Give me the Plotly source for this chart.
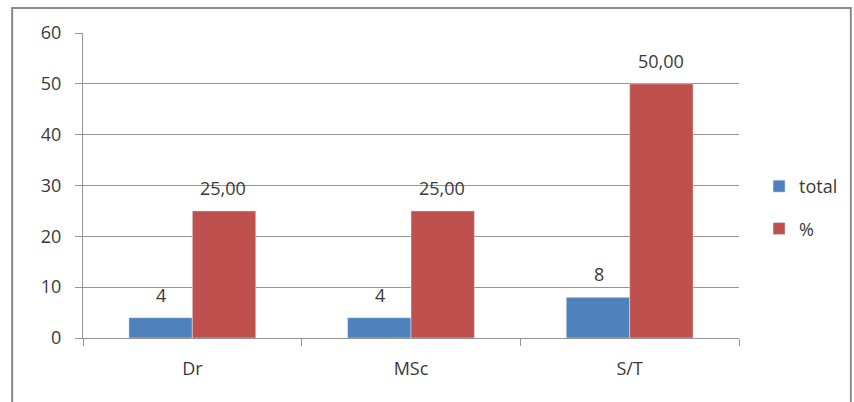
import plotly.graph_objects as go

categories = ["Dr", "MSc", "S/T"]
total = [4, 4, 8]
percent = [25.0, 25.0, 50.0]
y_ticks = [0, 10, 20, 30, 40, 50, 60]

BLUE = "#4F81BD"
RED = "#C0504D"
TEXT = "#3a3a3a"
GRID = "#949494"
FONT = "Open Sans"

fig = go.Figure()
fig.add_trace(go.Bar(name="total", x=categories, y=total, marker_color=BLUE,
                     legendgroup="a"))
fig.add_trace(go.Bar(name="%", x=categories, y=percent, marker_color=RED,
                     legendgroup="b"))

# value labels above each bar (comma as decimal mark for the percentages)
annotations = []
for cat, v in zip(categories, total):
    annotations.append(dict(x=cat, y=v, text=f"{v:d}", showarrow=False,
                            xanchor="center", yanchor="bottom", xshift=-31, yshift=9,
                            font=dict(family=FONT, size=18, color=TEXT)))
for cat, v in zip(categories, percent):
    annotations.append(dict(x=cat, y=v, text=f"{v:.2f}".replace(".", ","), showarrow=False,
                            xanchor="center", yanchor="bottom", xshift=31, yshift=9,
                            font=dict(family=FONT, size=18, color=TEXT)))

fig.update_layout(
    width=854, height=402,
    margin=dict(l=83, r=114, t=33, b=64),
    paper_bgcolor="white", plot_bgcolor="white",
    barmode="group", bargap=0.42, bargroupgap=0,
    font=dict(family=FONT, size=18, color=TEXT),
    annotations=annotations,
    legend=dict(x=1.029, xanchor="left", y=0.428, yanchor="middle",
                tracegroupgap=16, itemwidth=30,
                font=dict(family=FONT, size=18, color=TEXT),
                bgcolor="rgba(0,0,0,0)"),
    shapes=[dict(type="rect", xref="paper", yref="paper",
                 x0=-0.108, x1=1.1705, y0=-0.236, y1=1.082,
                 line=dict(color="#8a8a8a", width=2), fillcolor="rgba(0,0,0,0)",
                 layer="below")],
)

fig.update_xaxes(
    showline=True, linecolor=GRID, linewidth=1,
    ticks="outside", tickson="boundaries", ticklen=7, tickcolor=GRID,
    ticklabelstandoff=14, showgrid=False,
    tickfont=dict(family=FONT, size=18, color=TEXT),
)
fig.update_yaxes(
    range=[0, 60], tickvals=y_ticks,
    showline=True, linecolor=GRID, linewidth=1,
    ticks="outside", ticklen=7, tickcolor=GRID, ticklabelstandoff=10,
    showgrid=True, gridcolor=GRID, gridwidth=1, zeroline=False,
    tickfont=dict(family=FONT, size=18, color=TEXT),
)

fig.write_html("out.html")
